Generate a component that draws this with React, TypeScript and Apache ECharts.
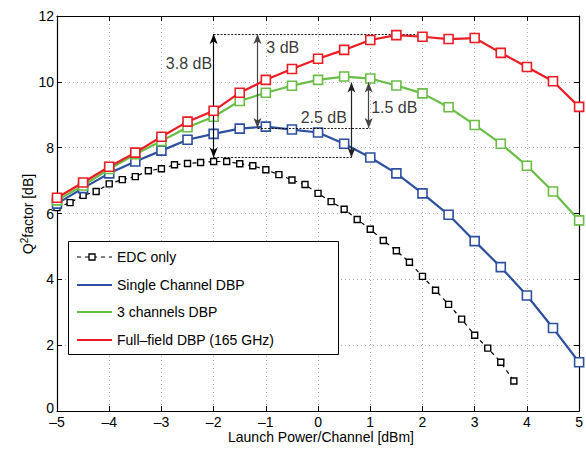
import React, { useEffect, useRef } from "react";
import * as echarts from "echarts";

// Launch power grids (dBm)
const X_FINE: number[] = [
  -5, -4.75, -4.5, -4.25, -4, -3.75, -3.5, -3.25, -3, -2.75, -2.5, -2.25, -2, -1.75, -1.5, -1.25,
  -1, -0.75, -0.5, -0.25, 0, 0.25, 0.5, 0.75, 1, 1.25, 1.5, 1.75, 2, 2.25, 2.5, 2.75, 3, 3.25, 3.5, 3.75,
];
const X_COARSE: number[] = [
  -5, -4.5, -4, -3.5, -3, -2.5, -2, -1.5, -1, -0.5, 0, 0.5, 1, 1.5, 2, 2.5, 3, 3.5, 4, 4.5, 5,
];

// Q^2 factor (dB)
const EDC_ONLY: number[] = [
  6.18, 6.33, 6.55, 6.67, 6.9, 7.03, 7.12, 7.3, 7.36, 7.48, 7.52, 7.55, 7.58, 7.58, 7.51, 7.45,
  7.33, 7.18, 7.02, 6.88, 6.61, 6.36, 6.13, 5.82, 5.52, 5.18, 4.87, 4.52, 4.09, 3.67, 3.24, 2.79,
  2.3, 1.91, 1.48, 0.91,
];
const SINGLE_DBP: number[] = [
  6.3, 6.77, 7.22, 7.58, 7.91, 8.24, 8.42, 8.58, 8.64, 8.55, 8.46, 8.12, 7.7, 7.22, 6.61, 5.96,
  5.16, 4.37, 3.51, 2.52, 1.48,
];
const THREE_DBP: number[] = [
  6.4, 6.85, 7.35, 7.8, 8.2, 8.62, 8.94, 9.42, 9.67, 9.88, 10.06, 10.16, 10.1, 9.89, 9.65, 9.23,
  8.69, 8.12, 7.45, 6.67, 5.79,
];
const FULL_DBP: number[] = [
  6.48, 6.94, 7.42, 7.85, 8.33, 8.79, 9.12, 9.67, 10.06, 10.39, 10.7, 10.97, 11.27, 11.42, 11.37,
  11.3, 11.33, 10.88, 10.45, 10.02, 9.24,
];

const SERIES_NAMES = ["EDC only", "Single Channel DBP", "3 channels DBP", "Full\u2013field DBP (165 GHz)"];
const COLORS = ["#000000", "#2c4f9f", "#6abd45", "#ec1c24"];

// Annotations (data coordinates)
const REF_LINES: { x1: number; x2: number; y: number }[] = [
  { x1: -2, x2: 2, y: 11.45 },
  { x1: -1.16, x2: 1, y: 8.6 },
  { x1: -2, x2: 0.64, y: 7.7 },
];
const ARROWS: { x: number; y1: number; y2: number; color: string }[] = [
  { x: -2, y1: 11.45, y2: 7.7, color: "#000" },
  { x: -1.16, y1: 11.45, y2: 8.6, color: "#444" },
  { x: 0.64, y1: 9.98, y2: 7.7, color: "#222" },
  { x: 0.97, y1: 9.98, y2: 8.6, color: "#444" },
];
const LABELS: { x: number; y: number; text: string; align: string }[] = [
  { x: -2.03, y: 10.57, text: "3.8 dB", align: "right" },
  { x: -0.99, y: 11.03, text: "3 dB", align: "left" },
  { x: 0.11, y: 8.93, text: "2.5 dB", align: "center" },
  { x: 1.46, y: 9.23, text: "1.5 dB", align: "center" },
];

const FONT = "Liberation Sans, Arial, Helvetica, sans-serif";

export default function App() {
  const ref = useRef<HTMLDivElement>(null);

  useEffect(() => {
    if (!ref.current) return;
    const chart = echarts.init(ref.current, undefined, { renderer: "svg" });

    const pair = (xs: number[], ys: number[]) => ys.map((y, i) => [xs[i], y]);
    const fmt = (v: number) => (v < 0 ? "\u2013" + Math.abs(v) : String(v));

    const gridLine = { show: true, lineStyle: { color: "#b0b0b0", type: [1, 3] as any, width: 1 } };
    const axisLine = { show: true, onZero: false, lineStyle: { color: "#000", width: 1.2 } };
    const tick = { show: true, inside: true, length: 5, lineStyle: { color: "#000", width: 1 } };

    const legendItems: any[] = [];
    const legendTop = 241;
    const rowsY = [257, 285, 312, 340];
    legendItems.push({
      type: "rect",
      shape: { x: 68.5, y: legendTop + 0.5, width: 270, height: 113 },
      style: { fill: "#fff", stroke: "#000", lineWidth: 1 },
      z: 100,
    });
    SERIES_NAMES.forEach((name, i) => {
      const y = rowsY[i];
      if (i === 0) {
        legendItems.push({
          type: "polyline",
          shape: { points: [[77, y], [112, y]] },
          style: { stroke: "#000", lineWidth: 1.2, lineDash: [4, 4] },
          z: 101,
        });
        legendItems.push({
          type: "rect",
          shape: { x: 89, y: y - 3, width: 6, height: 6 },
          style: { fill: "#fff", stroke: "#000", lineWidth: 1.3 },
          z: 102,
        });
      } else {
        legendItems.push({
          type: "line",
          shape: { x1: 77, y1: y, x2: 112, y2: y },
          style: { stroke: COLORS[i], lineWidth: 2.2 },
          z: 101,
        });
      }
      legendItems.push({
        type: "text",
        x: 117,
        y: y,
        style: { text: name, fill: "#000", font: `14px ${FONT}`, textVerticalAlign: "middle", verticalAlign: "middle" },
        z: 101,
      });
    });

    const option: any = {
      animation: false,
      backgroundColor: "#fff",
      textStyle: { fontFamily: FONT },
      grid: { left: 57, right: 1, top: 16, bottom: 38, containLabel: false },
      xAxis: [
        {
          type: "value",
          min: -5,
          max: 5,
          interval: 1,
          position: "bottom",
          axisLine,
          axisTick: tick,
          axisLabel: { formatter: fmt, color: "#000", fontSize: 14, margin: 4, fontFamily: FONT },
          splitLine: gridLine,
        },
        {
          type: "value",
          min: -5,
          max: 5,
          interval: 1,
          position: "top",
          axisLine,
          axisTick: tick,
          axisLabel: { show: false },
          splitLine: { show: false },
        },
      ],
      yAxis: [
        {
          type: "value",
          min: 0,
          max: 12,
          interval: 2,
          position: "left",
          axisLine,
          axisTick: tick,
          axisLabel: {
            color: "#000",
            fontSize: 14,
            margin: 3,
            fontFamily: FONT,
            formatter: (v: number) => (v === 0 ? "{lift|0}" : String(v)),
            rich: { lift: { fontSize: 14, fontFamily: FONT, color: "#000", padding: [0, 0, 7, 0] } },
          },
          splitLine: gridLine,
        },
        {
          type: "value",
          min: 0,
          max: 12,
          interval: 2,
          position: "right",
          axisLine,
          axisTick: tick,
          axisLabel: { show: false },
          splitLine: { show: false },
        },
      ],
      series: [
        {
          name: SERIES_NAMES[0],
          type: "line",
          data: pair(X_FINE, EDC_ONLY),
          symbol: "rect",
          symbolSize: 6,
          showAllSymbol: true,
          lineStyle: { color: "#000", width: 1.2, type: [4, 4] },
          itemStyle: { color: "#fff", borderColor: "#000", borderWidth: 1.4 },
          z: 2,
        },
        ...[SINGLE_DBP, THREE_DBP, FULL_DBP].map((d, k) => ({
          name: SERIES_NAMES[k + 1],
          type: "line",
          data: pair(X_COARSE, d),
          symbol: "rect",
          symbolSize: 9,
          showAllSymbol: true,
          lineStyle: { color: COLORS[k + 1], width: 2.2 },
          itemStyle: { color: "#fff", borderColor: COLORS[k + 1], borderWidth: 1.6 },
          z: 3 + k,
        })),
        {
          name: "annotations",
          type: "line",
          data: [],
          silent: true,
          z: 10,
          markLine: {
            silent: true,
            animation: false,
            label: { show: false },
            data: [
              ...REF_LINES.map((r) => [
                { coord: [r.x1, r.y], symbol: "none", lineStyle: { color: "#000", type: [2, 1.5], width: 0.9 } },
                { coord: [r.x2, r.y], symbol: "none" },
              ]),
              ...ARROWS.map((a) => [
                { coord: [a.x, a.y1], symbol: "arrow", symbolSize: [6, 10], lineStyle: { color: a.color, type: "solid", width: 1.2 }, itemStyle: { color: a.color } },
                { coord: [a.x, a.y2], symbol: "arrow", symbolSize: [6, 10] },
              ]),
            ],
          },
        },
        {
          name: "labels",
          type: "scatter",
          symbolSize: 0,
          silent: true,
          z: 11,
          data: LABELS.map((l) => ({
            value: [l.x, l.y],
            label: {
              show: true,
              position: "inside",
              formatter: l.text,
              align: l.align,
              verticalAlign: "middle",
              color: "#000",
              fontSize: 16,
              fontFamily: FONT,
            },
          })),
        },
      ],
      graphic: [
        ...legendItems,
        {
          type: "text",
          x: 28,
          y: 214,
          rotation: Math.PI / 2,
          style: {
            text: "Q{sup|2}factor [dB]",
            fill: "#000",
            font: `14px ${FONT}`,
            align: "center",
            verticalAlign: "middle",
            rich: {
              sup: { fontSize: 10, verticalAlign: "top", lineHeight: 18, fontFamily: FONT, fill: "#000" },
            },
          },
        },
        {
          type: "text",
          x: 321,
          y: 437,
          style: {
            text: "Launch Power/Channel [dBm]",
            fill: "#000",
            font: `14px ${FONT}`,
            align: "center",
            verticalAlign: "middle",
          },
        },
      ],
    };

    chart.setOption(option);
    return () => chart.dispose();
  }, []);

  return (
    <div
      ref={ref}
      style={{ position: "fixed", left: 0, top: 0, width: 586, height: 449, background: "#fff" }}
    />
  );
}
